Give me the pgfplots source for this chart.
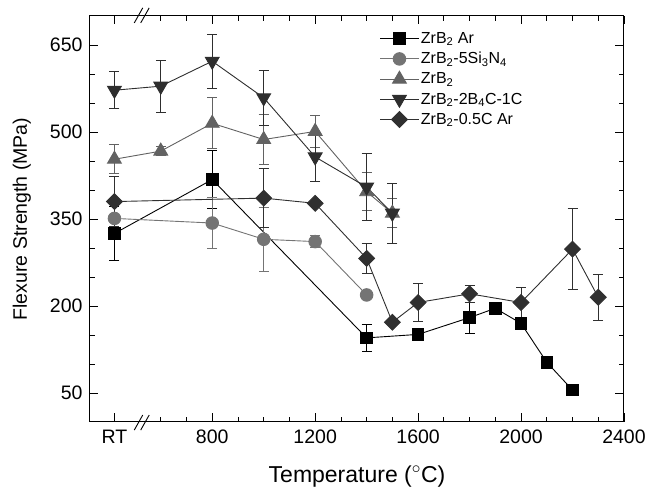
\documentclass[border=0pt]{standalone}
\usepackage{fontspec}
\setmainfont{Liberation Sans}
\usepackage{pgfplots}
\pgfplotsset{compat=1.18}

\definecolor{cAr}{HTML}{000000}
\definecolor{cSi}{HTML}{747474}
\definecolor{cZr}{HTML}{626262}
\definecolor{cBC}{HTML}{2E2E2E}
\definecolor{cC}{HTML}{303030}

\pgfplotstableread{
x y e
420 325 46
800 418 50
1400 145 24
1600 151 0
1800 180 27
1900 196 0
2000 170 0
2100 103 0
2200 55 0
}\tabAr
\pgfplotstableread{
x y e
420 351 0
800 343 44
1000 315 55
1200 311 10
1400 219 0
}\tabSi
\pgfplotstableread{
x y e
420 453 25
600 467 8
800 515 44
1000 487 43
1200 501 28
1400 397 33
1500 360 25
}\tabZr
\pgfplotstableread{
x y e
420 572 32
600 579 45
800 622 47
1000 559 47
1200 457 43
1400 405 58
1500 360 52
}\tabBC
\pgfplotstableread{
x y e
420 380 43
1000 386 51
1200 377 0
1400 282 26
1500 172 0
1600 206 33
1800 221 14
2000 206 26
2200 298 70
2300 215 40
}\tabC

\begin{document}
\begin{tikzpicture}
\begin{axis}[
  scale only axis, width=534pt, height=406pt,
  xmin=325, xmax=2400, ymin=0, ymax=700,
  clip=false,
  xtick={420,800,1200,1600,2000,2400},
  xticklabels={RT,800,1200,1600,2000,2400},
  minor xtick={600,700,900,1000,1100,1300,1400,1500,1700,1800,1900,2100,2200,2300},
  ytick={50,200,350,500,650},
  minor ytick={100,150,250,300,400,450,550,600},
  tick align=inside,
  major tick length=8.5pt, minor tick length=5pt,
  tick style={black, line width=0.8pt},
  axis line style={line width=1pt},
  /pgf/number format/assume math mode=true,
  tick label style={font=\fontsize{19.5}{22}\selectfont},
  yticklabel style={xshift=-4pt},
  xticklabel style={yshift=-4.5pt},
  xlabel={Temperature ($^\circ$C)},
  ylabel={Flexure Strength (MPa)},
  xlabel style={font=\fontsize{23}{26}\selectfont, at={(axis description cs:0.5,-0.148)}, anchor=base},
  ylabel style={font=\fontsize{19.5}{22}\selectfont, at={(axis description cs:-0.118,0.5)}, anchor=base},
  legend style={draw=none, fill=none, at={(axis description cs:0.537,0.970)}, anchor=north west,
    font=\fontsize{16}{18}\selectfont, row sep=3.5pt},
  legend cell align=left,
  legend image code/.code={\draw[mark repeat=2,mark phase=2] plot coordinates {(0cm,0cm) (0.67cm,0cm) (1.34cm,0cm)};},
  error bars/error bar style={line width=0.8pt},
  error bars/error mark options={rotate=90, mark size=5pt, line width=0.8pt},
]
\fill[white] (axis cs:500,4) rectangle (axis cs:545,696);

\addplot[cAr, line width=0.9pt, mark=square*, mark size=5.8pt, mark options={fill=cAr},
  error bars/.cd, y dir=both, y explicit]
  table[x=x, y=y, y error=e] {\tabAr};
\addlegendentry{ZrB\textsubscript{2} Ar}

\addplot[cSi, line width=0.9pt, mark=*, mark size=6.3pt, mark options={fill=cSi},
  error bars/.cd, y dir=both, y explicit]
  table[x=x, y=y, y error=e] {\tabSi};
\addlegendentry{ZrB\textsubscript{2}-5Si\textsubscript{3}N\textsubscript{4}}

\addplot[cZr, line width=0.9pt, mark=triangle*, mark size=8pt, mark options={fill=cZr},
  error bars/.cd, y dir=both, y explicit]
  table[x=x, y=y, y error=e] {\tabZr};
\addlegendentry{ZrB\textsubscript{2}}

\addplot[cBC, line width=0.9pt, mark=triangle*, mark size=8pt, mark options={fill=cBC, rotate=180},
  error bars/.cd, y dir=both, y explicit]
  table[x=x, y=y, y error=e] {\tabBC};
\addlegendentry{ZrB\textsubscript{2}-2B\textsubscript{4}C-1C}

\addplot[cC, line width=0.9pt, mark=square*, mark size=5.6pt, mark options={fill=cC, rotate=45},
  error bars/.cd, y dir=both, y explicit]
  table[x=x, y=y, y error=e] {\tabC};
\addlegendentry{ZrB\textsubscript{2}-0.5C Ar}

% axis break marks
\draw[line width=0.9pt] (axis cs:497,-14) -- (axis cs:530,12);
\draw[line width=0.9pt] (axis cs:522,-14) -- (axis cs:555,12);
\draw[line width=0.9pt] (axis cs:497,688) -- (axis cs:530,714);
\draw[line width=0.9pt] (axis cs:522,688) -- (axis cs:555,714);

% page margins as in the reference
\path (rel axis cs:0,0) ++(-90pt,-65pt);
\path (rel axis cs:1,1) ++(25pt,16pt);
\end{axis}
\end{tikzpicture}
\end{document}
